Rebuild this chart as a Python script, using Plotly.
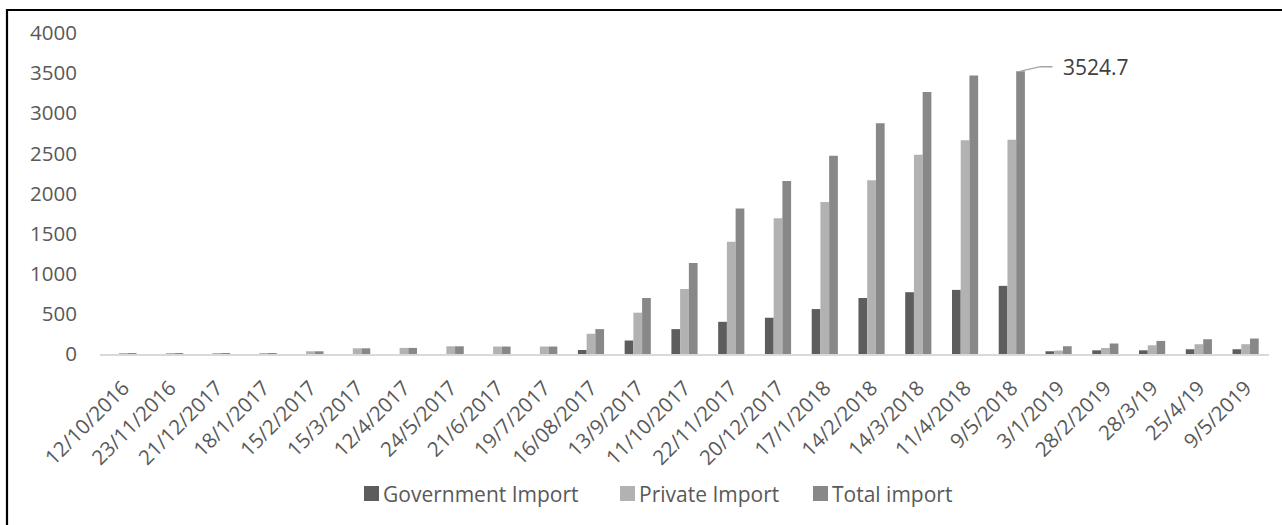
import plotly.graph_objects as go

# Import volumes by reporting date
dates = [
    "12/10/2016", "23/11/2016", "21/12/2017", "18/1/2017", "15/2/2017",
    "15/3/2017", "12/4/2017", "24/5/2017", "21/6/2017", "19/7/2017",
    "16/08/2017", "13/9/2017", "11/10/2017", "22/11/2017", "20/12/2017",
    "17/1/2018", "14/2/2018", "14/3/2018", "11/4/2018", "9/5/2018",
    "3/1/2019", "28/2/2019", "28/3/19", "25/4/19", "9/5/2019",
]
government_import = [0, 0, 0, 0, 0, 0, 0, 0, 0, 0,
                     50, 168, 310, 401, 452, 560, 698, 770, 799, 849,
                     34, 46, 46, 59, 59]
private_import = [1, 1, 2, 8, 34, 71, 76, 96, 93, 93,
                  252, 515, 810, 1400, 1692, 1893, 2166, 2483, 2663, 2670,
                  43, 75, 109, 122, 122]
total_import = [1, 1, 2, 8, 34, 71, 76, 96, 93, 93,
                310, 698, 1133, 1814, 2156, 2470, 2876, 3265, 3469, 3524.7,
                97, 131, 163, 184, 193]

series_names = ["Government Import", "Private Import", "Total import"]
series_colors = ["#5d5d5d", "#b2b2b2", "#888888"]

peak_index = 19
peak_label = "3524.7"

FONT = "Open Sans"
TEXT = "#595959"
BARGAP = 0.44

W, H = 1282, 525
ML, MR, MT, MB = 100, 13, 33, 171
PW, PH = W - ML - MR, H - MT - MB


def px_x(px):
    """Page pixel x -> paper fraction."""
    return (px - ML) / PW


def px_y(py):
    """Page pixel y -> paper fraction."""
    return (H - MB - py) / PH


fig = go.Figure()
for name, vals, col in zip(series_names,
                           [government_import, private_import, total_import],
                           series_colors):
    fig.add_trace(go.Bar(name=name, x=dates, y=vals,
                         marker=dict(color=col, line=dict(width=0))))

# x position of the Total bar inside its group (category units)
bar_w = (1 - BARGAP) / 3
peak_x = peak_index + bar_w

# Leader line from the top of the peak bar to its label
fig.add_shape(type="path", xref="x", yref="y",
              xsizemode="pixel", ysizemode="pixel",
              xanchor=peak_x, yanchor=total_import[peak_index],
              path="M 0,0 L 20,4.5 L 32,4.5",
              line=dict(color="#a6a6a6", width=1.5))
fig.add_annotation(x=peak_x, y=total_import[peak_index], text=peak_label,
                   showarrow=False, xanchor="left", yanchor="middle",
                   xshift=40, yshift=4,
                   font=dict(family=FONT, size=21, color="#404040"))

# Legend row under the chart: square swatch followed by its name
legend_swatch_left = [364, 620, 813]
SW = 15
LEG_Y = 493.5
for name, col, sx in zip(series_names, series_colors, legend_swatch_left):
    fig.add_shape(type="rect", xref="paper", yref="paper",
                  x0=px_x(sx), x1=px_x(sx + SW),
                  y0=px_y(LEG_Y + SW / 2), y1=px_y(LEG_Y - SW / 2),
                  fillcolor=col, line=dict(width=0))
    fig.add_annotation(xref="paper", yref="paper",
                       x=px_x(sx + SW + 2), y=px_y(LEG_Y),
                       text=name, showarrow=False,
                       xanchor="left", yanchor="middle",
                       font=dict(family=FONT, size=21, color=TEXT))

# Outer chart border
fig.add_shape(type="rect", xref="paper", yref="paper",
              x0=px_x(7), x1=px_x(W + 40), y0=px_y(H + 40), y1=px_y(10),
              line=dict(color="black", width=2.2), layer="above")

fig.update_layout(
    width=W, height=H,
    margin=dict(l=ML, r=MR, t=MT, b=MB),
    paper_bgcolor="white", plot_bgcolor="white",
    barmode="group", bargap=BARGAP, bargroupgap=0,
    font=dict(family=FONT, color=TEXT),
    showlegend=False,
)
fig.update_xaxes(
    type="category", tickangle=-45, showgrid=False,
    showline=True, linecolor="#d9d9d9", linewidth=1.5,
    ticks="", ticklabelstandoff=12,
    tickfont=dict(family=FONT, size=20.5, color=TEXT),
)
fig.update_yaxes(
    range=[0, 4000], dtick=500, tick0=0, showgrid=False, zeroline=False,
    showline=False, ticks="", ticklabelstandoff=22,
    tickfont=dict(family=FONT, size=20.5, color=TEXT),
)

fig.write_html("out.html")
